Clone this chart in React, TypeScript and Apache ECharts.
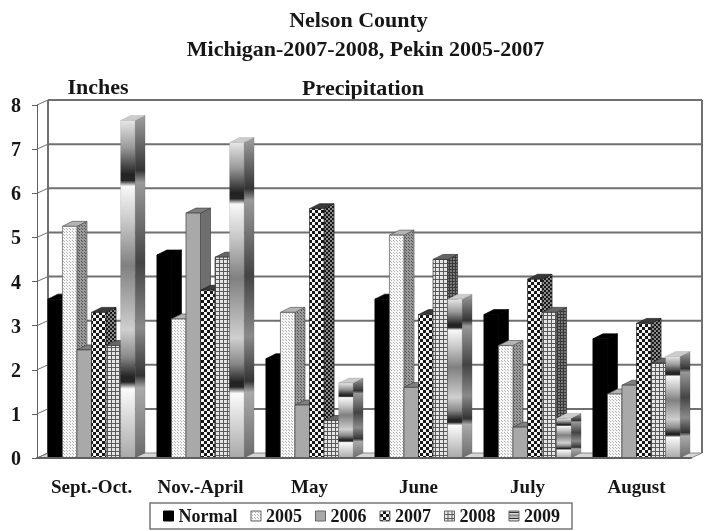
import React, { useEffect, useRef } from "react";
import * as echarts from "echarts";

const categories = ["Sept.-Oct.", "Nov.-April", "May", "June", "July", "August"];
const yTicks = [0, 1, 2, 3, 4, 5, 6, 7, 8];
const normal = [3.6, 4.6, 2.25, 3.6, 3.25, 2.7];
const y2005 = [5.25, 3.15, 3.3, 5.05, 2.55, 1.45];
const y2006 = [2.45, 5.55, 1.2, 1.6, 0.7, 1.65];
const y2007 = [3.3, 3.8, 5.65, 3.25, 4.05, 3.05];
const y2008 = [2.55, 4.55, 0.85, 4.5, 3.3, 2.15];
const y2009 = [7.65, 7.15, 1.7, 3.6, 0.9, 2.3];
const seriesNames = ["Normal", "2005", "2006", "2007", "2008", "2009"];
const seriesValues = [normal, y2005, y2006, y2007, y2008, y2009];

const FONT = '"Liberation Serif", serif';
const TEXT = "#161616";
const DX = 10;
const DY = 5;
const WALL_DX = 11;
const GAP_BARS = 1.5;

function tile(size: number, draw: (c: CanvasRenderingContext2D) => void) {
  const cv = document.createElement("canvas");
  cv.width = size;
  cv.height = size;
  draw(cv.getContext("2d") as CanvasRenderingContext2D);
  return { image: cv, repeat: "repeat" };
}

function dots(bg: string, fg: string, size: number) {
  return tile(size, (c) => {
    c.fillStyle = bg;
    c.fillRect(0, 0, size, size);
    c.fillStyle = fg;
    c.fillRect(0, 0, 1, 1);
    c.fillRect(Math.floor(size / 2), Math.floor(size / 2), 1, 1);
  });
}
function checks(bg: string, fg: string, cell: number) {
  return tile(cell * 2, (c) => {
    c.fillStyle = bg;
    c.fillRect(0, 0, cell * 2, cell * 2);
    c.fillStyle = fg;
    c.fillRect(0, 0, cell, cell);
    c.fillRect(cell, cell, cell, cell);
  });
}
function grid(bg: string, fg: string, size: number) {
  return tile(size, (c) => {
    c.fillStyle = bg;
    c.fillRect(0, 0, size, size);
    c.fillStyle = fg;
    c.fillRect(0, size - 1, size, 1);
    c.fillRect(size - 1, 0, 1, size);
  });
}
function chrome(stops: [number, string][]) {
  return new echarts.graphic.LinearGradient(
    0, 0, 0, 1,
    stops.map(([offset, color]) => ({ offset, color }))
  );
}

function makeStyles() {
  return [
    { front: "#000", side: "#000", top: "#000", stroke: "#000" },
    { front: dots("#f6f6f6", "#b4b4b4", 3), side: dots("#9a9a9a", "#555", 3), top: "#b4b4b4", stroke: "#555" },
    { front: "#a9a9a9", side: "#6f6f6f", top: "#7f7f7f", stroke: "#444" },
    { front: checks("#171717", "#f4f4f4", 3), side: checks("#1a1a1a", "#8a8a8a", 2), top: "#3a3a3a", stroke: "#222" },
    { front: grid("#e6e6e6", "#5a5a5a", 4), side: grid("#777", "#3a3a3a", 3), top: "#666", stroke: "#333" },
    {
      front: chrome([
        [0, "#e6e6e6"], [0.08, "#9a9a9a"], [0.16, "#222"], [0.178, "#262626"], [0.195, "#f8f8f8"],
        [0.3, "#c8c8c8"], [0.43, "#808080"], [0.62, "#cfcfcf"], [0.7, "#8a8a8a"], [0.76, "#222"],
        [0.775, "#262626"], [0.795, "#fbfbfb"], [1, "#a8a8a8"],
      ]),
      side: chrome([
        [0, "#a0a0a0"], [0.16, "#333"], [0.195, "#999"], [0.43, "#444"], [0.62, "#8a8a8a"],
        [0.76, "#333"], [0.795, "#aaa"], [1, "#6a6a6a"],
      ]),
      top: "#cccccc",
      stroke: "rgba(70,70,70,0.2)",
    },
  ];
}

export default function App() {
  const ref = useRef<HTMLDivElement>(null);
  useEffect(() => {
    const chart = echarts.init(ref.current as HTMLDivElement, undefined, { renderer: "svg" });
    const styles = makeStyles();

    const frameItem = (params: any, api: any) => {
      const v = api.value(0);
      const cs = params.coordSys;
      const y = api.coord([0, v])[1];
      const x0 = cs.x;
      const x1 = cs.x + cs.width;
      const line = { stroke: "#707070", lineWidth: 2, fill: "none" };
      const kids: any[] = [];
      if (v === 0) {
        kids.push({
          type: "polygon",
          shape: { points: [[x0, y], [x0 + WALL_DX, y - DY], [x1 + WALL_DX, y - DY], [x1, y]] },
          style: { fill: "#d6d6d6", stroke: "#8a8a8a", lineWidth: 1 },
        });
        const top = api.coord([0, 8])[1];
        kids.push({
          type: "line",
          shape: { x1: x0 + WALL_DX, y1: y - DY, x2: x0 + WALL_DX, y2: top - DY },
          style: line,
        });
        kids.push({
          type: "line",
          shape: { x1: x1 + WALL_DX, y1: y - DY, x2: x1 + WALL_DX, y2: top - DY },
          style: line,
        });
      } else {
        kids.push({
          type: "line",
          shape: { x1: x0 + WALL_DX, y1: y - DY, x2: x1 + WALL_DX, y2: y - DY },
          style: line,
        });
      }
      kids.push({
        type: "line",
        shape: { x1: x0, y1: y, x2: x0 + WALL_DX, y2: y - DY },
        style: { stroke: "#707070", lineWidth: 1, fill: "none" },
      });
      return { type: "group", children: kids };
    };

    const barItem = (seriesIndex: number) => (_params: any, api: any) => {
      const cat = api.value(0);
      const [cx, yTop] = api.coord([cat, api.value(1)]);
      const y0 = api.coord([cat, 0])[1];
      const band = api.size([1, 0])[0];
      const w = band / (seriesNames.length + GAP_BARS);
      const x = cx - (w * seriesNames.length) / 2 + seriesIndex * w;
      const s = styles[seriesIndex];
      const thin = { stroke: s.stroke, lineWidth: 0.7 };
      return {
        type: "group",
        children: [
          {
            type: "polygon",
            shape: { points: [[x + w, yTop], [x + w + DX, yTop - DY], [x + w + DX, y0 - DY], [x + w, y0]] },
            style: { fill: s.side, ...thin },
          },
          {
            type: "polygon",
            shape: { points: [[x, yTop], [x + DX, yTop - DY], [x + w + DX, yTop - DY], [x + w, yTop]] },
            style: { fill: s.top, ...thin },
          },
          {
            type: "rect",
            shape: { x, y: yTop, width: w, height: y0 - yTop },
            style: { fill: s.front, ...thin },
          },
        ],
      };
    };

    const titleStyle = { fontFamily: FONT, fontSize: 22, fontWeight: "bold", color: TEXT };
    chart.setOption({
      animation: false,
      backgroundColor: "#fff",
      title: [
        { text: "Nelson County", left: 358.5, top: 8, textAlign: "center", padding: 0, textStyle: titleStyle },
        { text: "Michigan-2007-2008, Pekin 2005-2007", left: 365.5, top: 37, textAlign: "center", padding: 0, textStyle: titleStyle },
      ],
      graphic: [
        { type: "text", x: 98, y: 86, style: { text: "Inches", font: `bold 22px ${FONT}`, fill: TEXT, align: "center", verticalAlign: "middle" } },
        { type: "text", x: 363, y: 87, style: { text: "Precipitation", font: `bold 22px ${FONT}`, fill: TEXT, align: "center", verticalAlign: "middle" } },
      ],
      legend: {
        left: 150,
        top: 503,
        orient: "horizontal",
        width: 421,
        padding: [4, 12, 4, 13],
        borderColor: "#777",
        borderWidth: 1.5,
        itemWidth: 10,
        itemHeight: 10,
        itemGap: 13,
        icon: "rect",
        textStyle: { fontFamily: FONT, fontSize: 18, fontWeight: "bold", color: TEXT },
        data: seriesNames.map((name, i) => ({
          name,
          icon: "rect",
          itemStyle: { color: styles[i].front, borderColor: i === 0 ? "#000" : "#666", borderWidth: 1 },
        })),
      },
      grid: { left: 37, right: 33, top: 105, bottom: 73, containLabel: false },
      xAxis: {
        type: "category",
        data: categories,
        z: 5,
        axisTick: { show: false },
        axisLine: { lineStyle: { color: "#606060", width: 2 } },
        axisLabel: { interval: 0, fontFamily: FONT, fontSize: 19, fontWeight: "bold", color: TEXT, margin: 19 },
      },
      yAxis: {
        type: "value",
        min: 0,
        max: 8,
        interval: 1,
        z: 5,
        splitLine: { show: false },
        axisLine: { show: true, lineStyle: { color: "#606060", width: 1 } },
        axisTick: { show: true, length: 5, lineStyle: { color: "#606060", width: 1 } },
        axisLabel: { fontFamily: FONT, fontSize: 20, fontWeight: "bold", color: TEXT, margin: 16 },
      },
      series: [
        {
          type: "custom",
          name: "frame",
          renderItem: frameItem,
          data: yTicks.map((v) => [v]),
          encode: { y: 0 },
          silent: true,
          z: 1,
        },
        ...seriesNames.map((name, i) => ({
          type: "custom",
          name,
          renderItem: barItem(i),
          data: seriesValues[i].map((v, c) => [c, v]),
          encode: { x: 0, y: 1 },
          itemStyle: { color: styles[i].front },
          z: 2,
        })),
      ],
    });
    return () => chart.dispose();
  }, []);
  return (
    <div
      ref={ref}
      style={{ position: "fixed", left: 0, top: 0, width: 724, height: 531, filter: "blur(0.45px)" }}
    />
  );
}
